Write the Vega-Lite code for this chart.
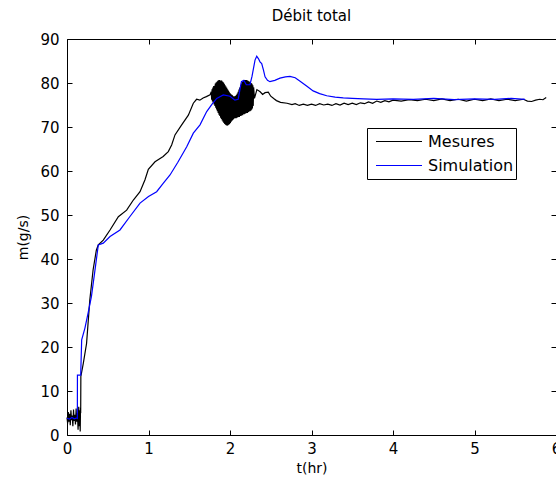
{
  "$schema": "https://vega.github.io/schema/vega-lite/v6.json",
  "width": 489,
  "height": 396,
  "autosize": {"type": "none"},
  "padding": {"left": 67, "top": 39, "right": 0, "bottom": 42},
  "background": "white",
  "title": {"text": "Débit total", "font": "DejaVu Sans", "fontSize": 15, "fontWeight": "normal", "color": "black", "offset": 8, "anchor": "middle"},
  "data": {"values": [
    {"t":0.000,"m":4.0,"s":"Mesures"},{"t":0.008,"m":2.6,"s":"Mesures"},{"t":0.016,"m":5.2,"s":"Mesures"},{"t":0.024,"m":3.0,"s":"Mesures"},
    {"t":0.032,"m":4.8,"s":"Mesures"},{"t":0.040,"m":2.2,"s":"Mesures"},{"t":0.048,"m":5.6,"s":"Mesures"},{"t":0.056,"m":3.4,"s":"Mesures"},
    {"t":0.064,"m":4.4,"s":"Mesures"},{"t":0.072,"m":2.0,"s":"Mesures"},{"t":0.080,"m":5.8,"s":"Mesures"},{"t":0.088,"m":3.2,"s":"Mesures"},
    {"t":0.096,"m":4.6,"s":"Mesures"},{"t":0.104,"m":2.4,"s":"Mesures"},{"t":0.112,"m":6.0,"s":"Mesures"},{"t":0.120,"m":3.0,"s":"Mesures"},
    {"t":0.128,"m":5.0,"s":"Mesures"},{"t":0.136,"m":1.2,"s":"Mesures"},{"t":0.144,"m":6.4,"s":"Mesures"},{"t":0.150,"m":2.0,"s":"Mesures"},
    {"t":0.156,"m":5.6,"s":"Mesures"},{"t":0.162,"m":0.8,"s":"Mesures"},{"t":0.166,"m":6.2,"s":"Mesures"},{"t":0.168,"m":5.0,"s":"Mesures"},
    {"t":0.170,"m":13.3,"s":"Mesures"},{"t":0.20,"m":16.3,"s":"Mesures"},{"t":0.24,"m":20.8,"s":"Mesures"},{"t":0.28,"m":30.7,"s":"Mesures"},
    {"t":0.32,"m":37.5,"s":"Mesures"},{"t":0.36,"m":42.0,"s":"Mesures"},{"t":0.384,"m":43.2,"s":"Mesures"},{"t":0.445,"m":44.3,"s":"Mesures"},
    {"t":0.528,"m":46.6,"s":"Mesures"},{"t":0.63,"m":49.6,"s":"Mesures"},{"t":0.732,"m":51.1,"s":"Mesures"},{"t":0.814,"m":53.4,"s":"Mesures"},
    {"t":0.896,"m":55.3,"s":"Mesures"},{"t":0.957,"m":58.0,"s":"Mesures"},{"t":0.998,"m":60.4,"s":"Mesures"},{"t":1.08,"m":62.1,"s":"Mesures"},
    {"t":1.18,"m":63.3,"s":"Mesures"},{"t":1.243,"m":64.4,"s":"Mesures"},{"t":1.284,"m":65.9,"s":"Mesures"},{"t":1.325,"m":68.2,"s":"Mesures"},
    {"t":1.407,"m":70.5,"s":"Mesures"},{"t":1.489,"m":72.7,"s":"Mesures"},{"t":1.55,"m":75.4,"s":"Mesures"},{"t":1.59,"m":76.3,"s":"Mesures"},
    {"t":1.63,"m":76.1,"s":"Mesures"},{"t":1.67,"m":76.6,"s":"Mesures"},{"t":1.71,"m":76.9,"s":"Mesures"},{"t":1.755,"m":77.3,"s":"Mesures"},
    {"t":1.770,"m":78.0,"s":"Mesures"},{"t":1.775,"m":76.2,"s":"Mesures"},{"t":1.780,"m":78.6,"s":"Mesures"},{"t":1.785,"m":75.8,"s":"Mesures"},
    {"t":1.790,"m":79.0,"s":"Mesures"},{"t":1.795,"m":75.5,"s":"Mesures"},{"t":1.800,"m":79.3,"s":"Mesures"},{"t":1.805,"m":75.1,"s":"Mesures"},
    {"t":1.810,"m":79.4,"s":"Mesures"},{"t":1.815,"m":74.8,"s":"Mesures"},{"t":1.820,"m":79.9,"s":"Mesures"},{"t":1.825,"m":74.4,"s":"Mesures"},
    {"t":1.830,"m":80.1,"s":"Mesures"},{"t":1.835,"m":74.0,"s":"Mesures"},{"t":1.840,"m":80.3,"s":"Mesures"},{"t":1.845,"m":73.6,"s":"Mesures"},
    {"t":1.850,"m":80.5,"s":"Mesures"},{"t":1.855,"m":73.2,"s":"Mesures"},{"t":1.860,"m":80.6,"s":"Mesures"},{"t":1.865,"m":72.8,"s":"Mesures"},
    {"t":1.870,"m":80.7,"s":"Mesures"},{"t":1.875,"m":72.5,"s":"Mesures"},{"t":1.880,"m":80.5,"s":"Mesures"},{"t":1.885,"m":72.1,"s":"Mesures"},
    {"t":1.890,"m":80.6,"s":"Mesures"},{"t":1.895,"m":71.8,"s":"Mesures"},{"t":1.900,"m":80.5,"s":"Mesures"},{"t":1.905,"m":71.5,"s":"Mesures"},
    {"t":1.910,"m":80.3,"s":"Mesures"},{"t":1.915,"m":71.2,"s":"Mesures"},{"t":1.920,"m":80.1,"s":"Mesures"},{"t":1.925,"m":70.9,"s":"Mesures"},
    {"t":1.930,"m":79.8,"s":"Mesures"},{"t":1.935,"m":70.7,"s":"Mesures"},{"t":1.940,"m":79.5,"s":"Mesures"},{"t":1.945,"m":70.5,"s":"Mesures"},
    {"t":1.950,"m":79.2,"s":"Mesures"},{"t":1.955,"m":70.4,"s":"Mesures"},{"t":1.960,"m":78.9,"s":"Mesures"},{"t":1.965,"m":70.3,"s":"Mesures"},
    {"t":1.970,"m":78.6,"s":"Mesures"},{"t":1.975,"m":70.4,"s":"Mesures"},{"t":1.980,"m":78.3,"s":"Mesures"},{"t":1.985,"m":70.5,"s":"Mesures"},
    {"t":1.990,"m":78.0,"s":"Mesures"},{"t":1.995,"m":70.7,"s":"Mesures"},{"t":2.000,"m":77.7,"s":"Mesures"},{"t":2.005,"m":70.9,"s":"Mesures"},
    {"t":2.010,"m":77.5,"s":"Mesures"},{"t":2.015,"m":71.2,"s":"Mesures"},{"t":2.020,"m":77.3,"s":"Mesures"},{"t":2.025,"m":71.4,"s":"Mesures"},
    {"t":2.030,"m":77.2,"s":"Mesures"},{"t":2.035,"m":71.6,"s":"Mesures"},{"t":2.040,"m":77.0,"s":"Mesures"},{"t":2.045,"m":71.8,"s":"Mesures"},
    {"t":2.050,"m":77.0,"s":"Mesures"},{"t":2.055,"m":72.0,"s":"Mesures"},{"t":2.060,"m":77.0,"s":"Mesures"},{"t":2.065,"m":72.0,"s":"Mesures"},
    {"t":2.070,"m":77.1,"s":"Mesures"},{"t":2.075,"m":72.0,"s":"Mesures"},{"t":2.080,"m":77.3,"s":"Mesures"},{"t":2.085,"m":72.1,"s":"Mesures"},
    {"t":2.090,"m":77.6,"s":"Mesures"},{"t":2.095,"m":72.2,"s":"Mesures"},{"t":2.100,"m":78.0,"s":"Mesures"},{"t":2.105,"m":72.3,"s":"Mesures"},
    {"t":2.110,"m":78.5,"s":"Mesures"},{"t":2.115,"m":72.3,"s":"Mesures"},{"t":2.120,"m":79.0,"s":"Mesures"},{"t":2.125,"m":72.5,"s":"Mesures"},
    {"t":2.130,"m":79.5,"s":"Mesures"},{"t":2.135,"m":72.5,"s":"Mesures"},{"t":2.140,"m":79.9,"s":"Mesures"},{"t":2.145,"m":72.7,"s":"Mesures"},
    {"t":2.150,"m":80.2,"s":"Mesures"},{"t":2.155,"m":72.7,"s":"Mesures"},{"t":2.160,"m":80.4,"s":"Mesures"},{"t":2.165,"m":72.9,"s":"Mesures"},
    {"t":2.170,"m":80.6,"s":"Mesures"},{"t":2.175,"m":72.9,"s":"Mesures"},{"t":2.180,"m":80.7,"s":"Mesures"},{"t":2.185,"m":73.0,"s":"Mesures"},
    {"t":2.190,"m":80.7,"s":"Mesures"},{"t":2.195,"m":73.1,"s":"Mesures"},{"t":2.200,"m":80.7,"s":"Mesures"},{"t":2.205,"m":73.2,"s":"Mesures"},
    {"t":2.210,"m":80.6,"s":"Mesures"},{"t":2.215,"m":73.2,"s":"Mesures"},{"t":2.220,"m":80.5,"s":"Mesures"},{"t":2.225,"m":73.4,"s":"Mesures"},
    {"t":2.230,"m":80.4,"s":"Mesures"},{"t":2.235,"m":73.5,"s":"Mesures"},{"t":2.240,"m":80.3,"s":"Mesures"},{"t":2.245,"m":73.6,"s":"Mesures"},
    {"t":2.250,"m":80.2,"s":"Mesures"},{"t":2.255,"m":73.7,"s":"Mesures"},{"t":2.260,"m":80.0,"s":"Mesures"},{"t":2.265,"m":73.9,"s":"Mesures"},
    {"t":2.270,"m":79.8,"s":"Mesures"},{"t":2.275,"m":74.2,"s":"Mesures"},{"t":2.280,"m":79.5,"s":"Mesures"},{"t":2.285,"m":74.8,"s":"Mesures"},
    {"t":2.290,"m":79.0,"s":"Mesures"},{"t":2.30,"m":76.5,"s":"Mesures"},{"t":2.33,"m":78.5,"s":"Mesures"},{"t":2.37,"m":78.0,"s":"Mesures"},
    {"t":2.40,"m":77.4,"s":"Mesures"},{"t":2.43,"m":77.8,"s":"Mesures"},{"t":2.47,"m":77.9,"s":"Mesures"},{"t":2.50,"m":77.0,"s":"Mesures"},
    {"t":2.54,"m":76.4,"s":"Mesures"},{"t":2.57,"m":76.0,"s":"Mesures"},{"t":2.62,"m":75.6,"s":"Mesures"},{"t":2.70,"m":75.4,"s":"Mesures"},
    {"t":2.76,"m":75.1,"s":"Mesures"},{"t":2.80,"m":75.3,"s":"Mesures"},{"t":2.85,"m":74.9,"s":"Mesures"},{"t":2.90,"m":75.2,"s":"Mesures"},
    {"t":2.95,"m":74.9,"s":"Mesures"},{"t":3.00,"m":75.2,"s":"Mesures"},{"t":3.05,"m":74.9,"s":"Mesures"},{"t":3.10,"m":75.3,"s":"Mesures"},
    {"t":3.15,"m":75.0,"s":"Mesures"},{"t":3.20,"m":75.2,"s":"Mesures"},{"t":3.25,"m":74.9,"s":"Mesures"},{"t":3.30,"m":75.3,"s":"Mesures"},
    {"t":3.35,"m":75.0,"s":"Mesures"},{"t":3.40,"m":75.4,"s":"Mesures"},{"t":3.45,"m":75.1,"s":"Mesures"},{"t":3.50,"m":75.4,"s":"Mesures"},
    {"t":3.55,"m":75.1,"s":"Mesures"},{"t":3.60,"m":75.5,"s":"Mesures"},{"t":3.65,"m":75.3,"s":"Mesures"},{"t":3.70,"m":75.7,"s":"Mesures"},
    {"t":3.75,"m":75.4,"s":"Mesures"},{"t":3.80,"m":75.9,"s":"Mesures"},{"t":3.85,"m":75.6,"s":"Mesures"},{"t":3.90,"m":76.0,"s":"Mesures"},
    {"t":3.95,"m":75.7,"s":"Mesures"},{"t":4.00,"m":76.1,"s":"Mesures"},{"t":4.10,"m":75.9,"s":"Mesures"},{"t":4.20,"m":76.2,"s":"Mesures"},
    {"t":4.30,"m":76.0,"s":"Mesures"},{"t":4.40,"m":76.3,"s":"Mesures"},{"t":4.50,"m":76.0,"s":"Mesures"},{"t":4.60,"m":76.4,"s":"Mesures"},
    {"t":4.70,"m":76.0,"s":"Mesures"},{"t":4.80,"m":76.3,"s":"Mesures"},{"t":4.90,"m":75.9,"s":"Mesures"},{"t":5.00,"m":76.3,"s":"Mesures"},
    {"t":5.10,"m":76.0,"s":"Mesures"},{"t":5.20,"m":76.4,"s":"Mesures"},{"t":5.30,"m":76.0,"s":"Mesures"},{"t":5.40,"m":76.3,"s":"Mesures"},
    {"t":5.50,"m":76.0,"s":"Mesures"},{"t":5.60,"m":76.3,"s":"Mesures"},{"t":5.65,"m":75.9,"s":"Mesures"},{"t":5.70,"m":75.8,"s":"Mesures"},
    {"t":5.75,"m":76.1,"s":"Mesures"},{"t":5.80,"m":76.3,"s":"Mesures"},{"t":5.84,"m":76.2,"s":"Mesures"},{"t":5.88,"m":76.7,"s":"Mesures"},
    {"t":0.00,"m":3.8,"s":"Simulation"},{"t":0.03,"m":3.6,"s":"Simulation"},{"t":0.06,"m":4.0,"s":"Simulation"},{"t":0.09,"m":3.7,"s":"Simulation"},
    {"t":0.12,"m":3.9,"s":"Simulation"},{"t":0.127,"m":3.8,"s":"Simulation"},{"t":0.128,"m":13.6,"s":"Simulation"},{"t":0.168,"m":13.6,"s":"Simulation"},
    {"t":0.18,"m":21.6,"s":"Simulation"},{"t":0.22,"m":24.3,"s":"Simulation"},{"t":0.26,"m":27.8,"s":"Simulation"},{"t":0.30,"m":31.5,"s":"Simulation"},
    {"t":0.34,"m":37.0,"s":"Simulation"},{"t":0.384,"m":43.2,"s":"Simulation"},{"t":0.445,"m":43.6,"s":"Simulation"},{"t":0.528,"m":45.1,"s":"Simulation"},
    {"t":0.65,"m":46.6,"s":"Simulation"},{"t":0.77,"m":49.6,"s":"Simulation"},{"t":0.896,"m":52.7,"s":"Simulation"},{"t":1.00,"m":54.2,"s":"Simulation"},
    {"t":1.10,"m":55.3,"s":"Simulation"},{"t":1.18,"m":57.2,"s":"Simulation"},{"t":1.264,"m":59.1,"s":"Simulation"},{"t":1.36,"m":62.0,"s":"Simulation"},
    {"t":1.469,"m":65.5,"s":"Simulation"},{"t":1.55,"m":68.6,"s":"Simulation"},{"t":1.632,"m":70.5,"s":"Simulation"},{"t":1.714,"m":73.5,"s":"Simulation"},
    {"t":1.78,"m":75.2,"s":"Simulation"},{"t":1.837,"m":76.5,"s":"Simulation"},{"t":1.918,"m":77.3,"s":"Simulation"},{"t":2.00,"m":77.0,"s":"Simulation"},
    {"t":2.06,"m":76.1,"s":"Simulation"},{"t":2.10,"m":76.3,"s":"Simulation"},{"t":2.14,"m":80.3,"s":"Simulation"},{"t":2.17,"m":80.6,"s":"Simulation"},
    {"t":2.20,"m":79.6,"s":"Simulation"},{"t":2.245,"m":79.6,"s":"Simulation"},{"t":2.27,"m":81.5,"s":"Simulation"},{"t":2.307,"m":85.2,"s":"Simulation"},
    {"t":2.328,"m":86.1,"s":"Simulation"},{"t":2.35,"m":85.5,"s":"Simulation"},{"t":2.368,"m":84.8,"s":"Simulation"},{"t":2.389,"m":84.4,"s":"Simulation"},
    {"t":2.41,"m":83.0,"s":"Simulation"},{"t":2.43,"m":81.4,"s":"Simulation"},{"t":2.46,"m":80.6,"s":"Simulation"},{"t":2.49,"m":80.3,"s":"Simulation"},
    {"t":2.55,"m":80.6,"s":"Simulation"},{"t":2.613,"m":81.1,"s":"Simulation"},{"t":2.68,"m":81.4,"s":"Simulation"},{"t":2.736,"m":81.5,"s":"Simulation"},
    {"t":2.80,"m":81.2,"s":"Simulation"},{"t":2.86,"m":80.4,"s":"Simulation"},{"t":2.94,"m":79.3,"s":"Simulation"},{"t":3.02,"m":78.2,"s":"Simulation"},
    {"t":3.10,"m":77.6,"s":"Simulation"},{"t":3.187,"m":77.1,"s":"Simulation"},{"t":3.29,"m":76.8,"s":"Simulation"},{"t":3.39,"m":76.6,"s":"Simulation"},
    {"t":3.50,"m":76.5,"s":"Simulation"},{"t":3.64,"m":76.4,"s":"Simulation"},{"t":3.80,"m":76.3,"s":"Simulation"},{"t":4.00,"m":76.4,"s":"Simulation"},
    {"t":4.25,"m":76.3,"s":"Simulation"},{"t":4.50,"m":76.5,"s":"Simulation"},{"t":4.75,"m":76.2,"s":"Simulation"},{"t":5.00,"m":76.4,"s":"Simulation"},
    {"t":5.25,"m":76.3,"s":"Simulation"},{"t":5.45,"m":76.5,"s":"Simulation"},{"t":5.62,"m":76.3,"s":"Simulation"}
  ]},
  "layer": [
    {
      "transform": [{"filter": "datum.s === 'Mesures'"}],
      "mark": {"type": "line", "strokeWidth": 1.2},
      "encoding": {
        "x": {"field": "t", "type": "quantitative", "scale": {"domain": [0, 6], "nice": false},
              "axis": {"values": [0,1,2,3,4,5,6], "title": "t(hr)", "labelPadding": 11, "titlePadding": 5}},
        "y": {"field": "m", "type": "quantitative", "scale": {"domain": [0, 90], "nice": false, "zero": false},
              "axis": {"values": [0,10,20,30,40,50,60,70,80,90], "title": "m(g/s)", "labelPadding": 13, "titlePadding": 9}},
        "color": {"field": "s", "type": "nominal", "scale": {"domain": ["Mesures", "Simulation"], "range": ["black", "#0000ff"]},
                  "legend": {"orient": "none", "legendX": 300, "legendY": 89, "title": null}}
      }
    },
    {
      "transform": [{"filter": "datum.s === 'Simulation'"}],
      "mark": {"type": "line", "strokeWidth": 1.2},
      "encoding": {
        "x": {"field": "t", "type": "quantitative", "axis": {"orient": "top", "values": [0,1,2,3,4,5,6], "labels": false, "title": null}},
        "y": {"field": "m", "type": "quantitative", "axis": {"orient": "right", "values": [0,10,20,30,40,50,60,70,80,90], "labels": false, "title": null}},
        "color": {"field": "s", "type": "nominal", "legend": {"orient": "none", "legendX": 300, "legendY": 89, "title": null}}
      }
    }
  ],
  "resolve": {"axis": {"x": "independent", "y": "independent"}},
  "config": {
    "view": {"stroke": null},
    "axis": {"grid": false, "domainColor": "black", "domainWidth": 1, "tickColor": "black", "tickWidth": 1, "tickSize": -5,
             "labelFont": "DejaVu Sans", "labelFontSize": 15, "labelColor": "black", "labelFlush": false, "labelOverlap": false,
             "titleFont": "DejaVu Sans", "titleFontSize": 14, "titleFontWeight": "normal", "titleColor": "black"},
    "legend": {"strokeColor": "black", "fillColor": "white", "padding": 2, "symbolType": "stroke", "symbolSize": 2116,
               "symbolStrokeWidth": 1.2, "symbolOffset": 6, "labelOffset": 5, "labelFont": "DejaVu Sans", "labelFontSize": 16,
               "labelColor": "black", "clipHeight": 23, "rowPadding": 1}
  }
}
